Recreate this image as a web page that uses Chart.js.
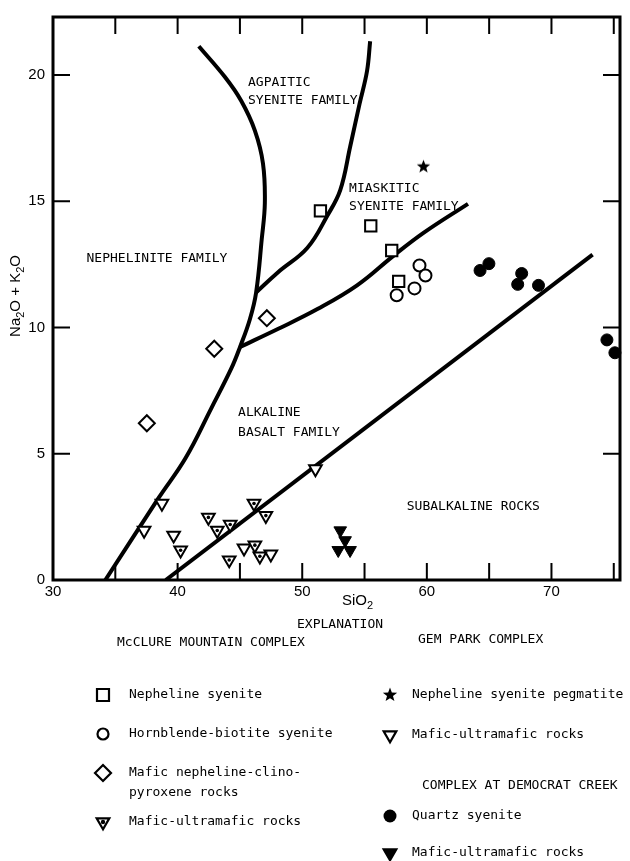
<!DOCTYPE html>
<html>
<head>
<meta charset="utf-8">
<script src="https://cdn.jsdelivr.net/npm/chart.js@4.4.1/dist/chart.umd.min.js"></script>
<style>
  html, body { margin: 0; padding: 0; background: #fff; }
  #wrap { position: relative; width: 630px; height: 861px; }
</style>
</head>
<body>
<div id="wrap"><canvas id="chart" width="630" height="861"></canvas></div>
<script>
// ===== DATA (SiO2 vs Na2O + K2O, wt %) =====
// McClure Mountain complex
const nephSyeniteX = [51.46, 55.5, 57.18, 57.74];
const nephSyeniteY = [14.62, 14.03, 13.05, 11.83];
const hornblendeX = [59.41, 59.89, 59.01, 57.58];
const hornblendeY = [12.46, 12.06, 11.55, 11.28];
const clinopyroxX = [47.16, 42.94, 37.53];
const clinopyroxY = [10.37, 9.16, 6.21];
const mcclureMaficX = [40.24, 42.47, 43.18, 44.22, 44.14, 46.13, 47.08, 46.2, 46.6];
const mcclureMaficY = [1.18, 2.48, 1.96, 2.2, 0.79, 3.03, 2.55, 1.38, 0.94];
// Gem Park complex
const pegmatiteX = [59.73];
const pegmatiteY = [16.39];
const gemMaficX = [38.74, 37.31, 39.68, 45.33, 47.48, 51.06];
const gemMaficY = [3.03, 1.96, 1.77, 1.26, 1.02, 4.4];
// Complex at Democrat Creek
const quartzSyeniteX = [64.98, 64.27, 67.61, 67.29, 68.96, 74.45, 75.09];
const quartzSyeniteY = [12.53, 12.26, 12.14, 11.71, 11.67, 9.51, 9.0];
const democratMaficX = [53.05, 53.44, 52.89, 53.84];
const democratMaficY = [1.96, 1.57, 1.18, 1.18];

// field boundaries
const nephelBoundX = [34.2, 38.49, 40.64, 42.7, 44.3, 45.01, 45.8, 46.3, 46.75, 47.0, 46.85, 46.2, 45.1, 43.8, 41.7];
const nephelBoundY = [0, 3.26, 4.83, 6.8, 8.37, 9.23, 10.33, 11.39, 13.5, 14.93, 16.5, 17.8, 18.98, 19.92, 21.14];
const agpaiticBoundX = [46.3, 48.04, 50.42, 52.0, 53.05, 53.85, 54.6, 55.2, 55.45];
const agpaiticBoundY = [11.39, 12.18, 13.16, 14.42, 15.44, 17.17, 18.86, 20.16, 21.34];
const miaskiticBoundX = [45.01, 48.04, 51.22, 54.4, 57.34, 59.73, 63.3];
const miaskiticBoundY = [9.23, 9.94, 10.73, 11.67, 12.85, 13.75, 14.9];
const subalkBoundX = [39.05, 73.3];
const subalkBoundY = [0, 12.89];

// axes
const xTickMarks = [35, 40, 45, 50, 55, 60, 65, 70, 75];
const yTickMarks = [5, 10, 15, 20];

// field names (placed in data units)
const fieldNames = [
  ['AGPAITIC', 45.65, 19.72],
  ['SYENITE FAMILY', 45.65, 18.98],
  ['NEPHELINITE FAMILY', 32.69, 12.73],
  ['MIASKITIC', 53.76, 15.52],
  ['SYENITE FAMILY', 53.76, 14.77],
  ['ALKALINE', 44.85, 6.64],
  ['BASALT FAMILY', 44.85, 5.85],
  ['SUBALKALINE ROCKS', 58.39, 2.91]
];

const pts = (xs, ys) => xs.map((x, i) => ({ x: x, y: ys[i] }));

const MONO = '13px "DejaVu Sans Mono", monospace';
const SANS = '15px "Liberation Sans", Arial, sans-serif';
const SUB = '11px "Liberation Sans", Arial, sans-serif';

// ===== STAR MARKER =====
function makeStar(size) {
  const c = document.createElement('canvas');
  c.width = size; c.height = size;
  const g = c.getContext('2d');
  drawStar(g, size / 2, size / 2 + 0.5, size / 2 - 0.5);
  return c;
}
function drawStar(g, cx, cy, r) {
  g.beginPath();
  for (let i = 0; i < 10; i++) {
    const rr = i % 2 === 0 ? r : r * 0.42;
    const a = -Math.PI / 2 + i * Math.PI / 5;
    g.lineTo(cx + rr * Math.cos(a), cy + rr * Math.sin(a));
  }
  g.closePath();
  g.fillStyle = '#000';
  g.fill();
}
const starImg = makeStar(15);

// ===== LEGEND MARKERS =====
function drawMarker(ctx, kind, x, y) {
  ctx.save();
  ctx.strokeStyle = '#000';
  ctx.fillStyle = '#000';
  ctx.lineWidth = 2.2;
  ctx.beginPath();
  if (kind === 'square') {
    ctx.rect(x - 6, y - 6, 12, 12);
    ctx.stroke();
  } else if (kind === 'circle') {
    ctx.arc(x, y, 5.5, 0, Math.PI * 2);
    ctx.stroke();
  } else if (kind === 'dot') {
    ctx.arc(x, y, 6.5, 0, Math.PI * 2);
    ctx.fill();
  } else if (kind === 'diamond') {
    ctx.moveTo(x - 8, y); ctx.lineTo(x, y - 8); ctx.lineTo(x + 8, y); ctx.lineTo(x, y + 8);
    ctx.closePath();
    ctx.stroke();
  } else if (kind.indexOf('tri') === 0) {
    const r = 7.3;
    ctx.moveTo(x, y + r);
    ctx.lineTo(x - r * 0.866, y - r / 2);
    ctx.lineTo(x + r * 0.866, y - r / 2);
    ctx.closePath();
    if (kind === 'triFilled') ctx.fill();
    ctx.stroke();
    if (kind === 'triDot') {
      ctx.beginPath();
      ctx.arc(x, y, 2.2, 0, Math.PI * 2);
      ctx.fill();
    }
  } else if (kind === 'star') {
    drawStar(ctx, x, y, 7.5);
  }
  ctx.restore();
}

// ===== PLUGIN: frame, inner ticks, titles, explanation =====
const decorations = {
  id: 'decorations',
  beforeDatasetsDraw(chart) {
    const { ctx, chartArea: a, scales: { x, y } } = chart;
    ctx.save();
    ctx.strokeStyle = '#000';
    ctx.lineWidth = 3;
    ctx.strokeRect(a.left, a.top, a.right - a.left, a.bottom - a.top);
    ctx.lineWidth = 2;
    ctx.beginPath();
    xTickMarks.forEach(v => {
      const px = x.getPixelForValue(v);
      ctx.moveTo(px, a.bottom); ctx.lineTo(px, a.bottom - 17);
      ctx.moveTo(px, a.top); ctx.lineTo(px, a.top + 17);
    });
    yTickMarks.forEach(v => {
      const py = y.getPixelForValue(v);
      ctx.moveTo(a.left, py); ctx.lineTo(a.left + 17, py);
      ctx.moveTo(a.right, py); ctx.lineTo(a.right - 17, py);
    });
    ctx.stroke();

    // field names
    ctx.fillStyle = '#000';
    ctx.font = MONO;
    ctx.textBaseline = 'middle';
    ctx.textAlign = 'left';
    fieldNames.forEach(([t, vx, vy]) => {
      ctx.fillText(t, x.getPixelForValue(vx), y.getPixelForValue(vy));
    });
    ctx.restore();
  },
  afterDraw(chart) {
    const { ctx } = chart;
    ctx.save();
    ctx.fillStyle = '#000';
    ctx.textBaseline = 'middle';
    ctx.textAlign = 'left';

    // x title: SiO2
    ctx.font = SANS;
    let sx = 342;
    ctx.fillText('SiO', sx, 601);
    sx += ctx.measureText('SiO').width;
    ctx.font = SUB;
    ctx.fillText('2', sx, 606);

    // y title: Na2O + K2O (rotated)
    ctx.translate(16, 296);
    ctx.rotate(-Math.PI / 2);
    const parts = [['Na', 0], ['2', 1], ['O + K', 0], ['2', 1], ['O', 0]];
    let total = 0;
    parts.forEach(([t, s]) => {
      ctx.font = s ? SUB : SANS;
      total += ctx.measureText(t).width;
    });
    let px = -total / 2;
    parts.forEach(([t, s]) => {
      ctx.font = s ? SUB : SANS;
      ctx.fillText(t, px, s ? 5 : 0);
      px += ctx.measureText(t).width;
    });
    ctx.setTransform(1, 0, 0, 1, 0, 0);

    // explanation
    ctx.font = MONO;
    ctx.fillText('EXPLANATION', 297, 625);
    ctx.fillText('McCLURE MOUNTAIN COMPLEX', 117, 643);
    ctx.fillText('GEM PARK COMPLEX', 418, 640);
    ctx.fillText('COMPLEX AT DEMOCRAT CREEK', 422, 786);

    const leftItems = [
      ['square', 695, ['Nepheline syenite']],
      ['circle', 734, ['Hornblende-biotite syenite']],
      ['diamond', 773, ['Mafic nepheline-clino-', 'pyroxene rocks']],
      ['triDot', 822, ['Mafic-ultramafic rocks']]
    ];
    const rightItems = [
      ['star', 695, ['Nepheline syenite pegmatite']],
      ['tri', 735, ['Mafic-ultramafic rocks']],
      ['dot', 816, ['Quartz syenite']],
      ['triFilled', 853, ['Mafic-ultramafic rocks']]
    ];
    leftItems.forEach(([k, yy, lines]) => {
      drawMarker(ctx, k, 103, yy);
      lines.forEach((t, i) => ctx.fillText(t, 129, yy + i * 20));
    });
    rightItems.forEach(([k, yy, lines]) => {
      drawMarker(ctx, k, 390, yy);
      lines.forEach((t, i) => ctx.fillText(t, 412, yy + i * 20));
    });
    ctx.restore();
  }
};

// ===== CHART =====
const openMarker = { borderColor: '#000', backgroundColor: '#fff', borderWidth: 2, order: 5 };
const lineStyle = { showLine: true, borderColor: '#000', borderWidth: 4, pointRadius: 0, fill: false, order: 10 };

new Chart(document.getElementById('chart'), {
  type: 'scatter',
  data: {
    datasets: [
      { label: 'Nepheline syenite', data: pts(nephSyeniteX, nephSyeniteY), pointStyle: 'rect', pointRadius: 8, ...openMarker },
      { label: 'Hornblende-biotite syenite', data: pts(hornblendeX, hornblendeY), pointStyle: 'circle', pointRadius: 6, ...openMarker },
      { label: 'Mafic nepheline-clinopyroxene rocks', data: pts(clinopyroxX, clinopyroxY), pointStyle: 'rectRot', pointRadius: 8, ...openMarker },
      { label: 'Mafic-ultramafic rocks (McClure)', data: pts(mcclureMaficX, mcclureMaficY), pointStyle: 'triangle', rotation: 180, pointRadius: 7.3, ...openMarker },
      { label: 'dots', data: pts(mcclureMaficX, mcclureMaficY), pointStyle: 'circle', pointRadius: 1.8, backgroundColor: '#000', borderWidth: 0, order: 1 },
      { label: 'Nepheline syenite pegmatite', data: pts(pegmatiteX, pegmatiteY), pointStyle: starImg, order: 5 },
      { label: 'Mafic-ultramafic rocks (Gem Park)', data: pts(gemMaficX, gemMaficY), pointStyle: 'triangle', rotation: 180, pointRadius: 7.3, ...openMarker },
      { label: 'Quartz syenite', data: pts(quartzSyeniteX, quartzSyeniteY), pointStyle: 'circle', pointRadius: 6, backgroundColor: '#000', borderColor: '#000', borderWidth: 1, order: 5, clip: 10 },
      { label: 'Mafic-ultramafic rocks (Democrat Creek)', data: pts(democratMaficX, democratMaficY), pointStyle: 'triangle', rotation: 180, pointRadius: 7.3, backgroundColor: '#000', borderColor: '#000', borderWidth: 1, order: 5 },
      { label: 'nephelinite', data: pts(nephelBoundX, nephelBoundY), tension: 0.4, ...lineStyle },
      { label: 'agpaitic', data: pts(agpaiticBoundX, agpaiticBoundY), tension: 0.4, ...lineStyle },
      { label: 'miaskitic', data: pts(miaskiticBoundX, miaskiticBoundY), tension: 0.4, ...lineStyle },
      { label: 'subalkaline', data: pts(subalkBoundX, subalkBoundY), tension: 0, ...lineStyle }
    ]
  },
  options: {
    responsive: false,
    devicePixelRatio: 1,
    animation: false,
    layout: { padding: { top: 13, right: 5, left: 0, bottom: 0 } },
    plugins: { legend: { display: false }, tooltip: { enabled: false } },
    scales: {
      x: {
        type: 'linear', min: 30, max: 75.5,
        afterFit: s => { s.height = 281; },
        grid: { display: false, drawTicks: false },
        border: { display: false },
        ticks: {
          stepSize: 5, includeBounds: false, autoSkip: false, maxRotation: 0,
          padding: 3, color: '#000', font: { family: 'Liberation Sans', size: 15 },
          callback: v => (v % 10 === 0 ? v : '')
        }
      },
      y: {
        type: 'linear', min: 0, max: 22.3,
        afterFit: s => { s.width = 53; },
        grid: { display: false, drawTicks: false },
        border: { display: false },
        ticks: {
          stepSize: 5, includeBounds: false, padding: 8,
          color: '#000', font: { family: 'Liberation Sans', size: 15 }
        }
      }
    }
  },
  plugins: [decorations]
});
</script>
</body>
</html>
